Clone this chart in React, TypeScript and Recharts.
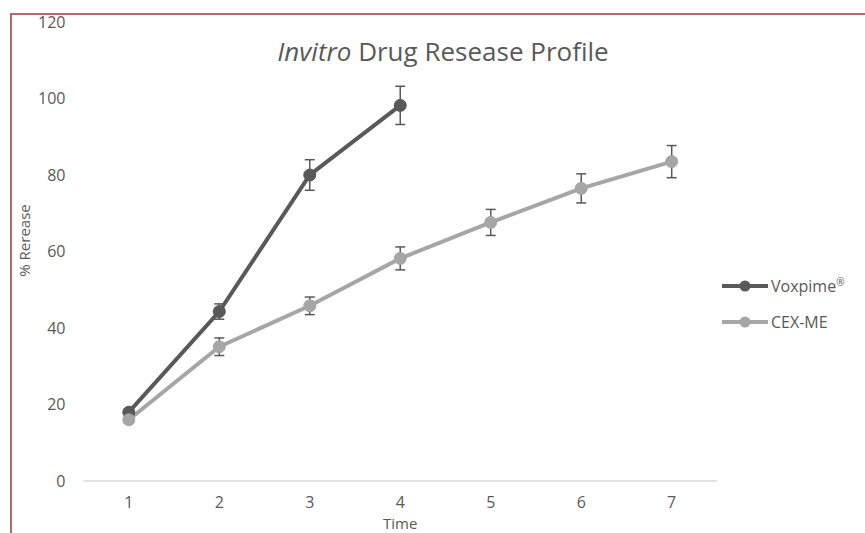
import React from "react";
import { LineChart, Line, XAxis, YAxis, ErrorBar, Label } from "recharts";

const times = [1, 2, 3, 4, 5, 6, 7];
const voxpime = [18, 44.3, 80, 98.2, null, null, null];
const voxpimeErr = [0.8, 2, 4, 5, 0, 0, 0];
const cexMe = [16, 35.1, 45.8, 58.2, 67.6, 76.5, 83.5];
const cexMeErr = [0.8, 2.3, 2.3, 3, 3.4, 3.8, 4.2];
const yTicks = [0, 20, 40, 60, 80, 100, 120];

const DARK = "#595959";
const LIGHT = "#a6a6a6";
const TEXT = "#595959";
const FONT = "'Open Sans', sans-serif";

const data = times.map((t, i) => ({
  time: t,
  voxpime: voxpime[i],
  voxpimeErr: voxpimeErr[i],
  cexMe: cexMe[i],
  cexMeErr: cexMeErr[i],
}));

const legendItems = [
  { label: "Voxpime", sup: "®", color: DARK },
  { label: "CEX-ME", sup: "", color: LIGHT },
];

function LegendBox() {
  return (
    <div
      style={{
        position: "absolute",
        left: 722,
        top: 268,
        fontFamily: FONT,
        fontSize: 16,
        color: TEXT,
      }}
    >
      {legendItems.map((it) => (
        <div key={it.label} style={{ display: "flex", alignItems: "center", height: 36 }}>
          <svg width={48} height={14} style={{ marginRight: 1 }}>
            <line x1={0} y1={7} x2={46} y2={7} stroke={it.color} strokeWidth={4} />
            <circle cx={23} cy={7} r={5.5} fill={it.color} />
          </svg>
          <span>
            {it.label}
            {it.sup && <sup style={{ fontSize: 10 }}>{it.sup}</sup>}
          </span>
        </div>
      ))}
    </div>
  );
}

export default function App() {
  return (
    <div style={{ position: "absolute", left: 0, top: 0, width: 865, height: 533, background: "#fff", overflow: "hidden" }}>
      <div
        style={{
          position: "absolute",
          left: 10,
          top: 13,
          width: 900,
          height: 600,
          borderLeft: "2px solid #b46a6a",
          borderTop: "2px solid #b46a6a",
        }}
      />
      <div
        style={{
          position: "absolute",
          left: 0,
          top: 33,
          width: 886,
          textAlign: "center",
          fontFamily: FONT,
          fontSize: 26,
          color: TEXT,
        }}
      >
        <i>Invitro</i> Drug Resease Profile
      </div>
      <LineChart
        width={865}
        height={533}
        data={data}
        margin={{ top: 22, right: 148, bottom: 22, left: 0 }}
        style={{ position: "absolute", left: 0, top: 0 }}
      >
        <XAxis
          dataKey="time"
          padding={{ left: 45.3, right: 45.3 }}
          axisLine={{ stroke: "#d9d9d9", strokeWidth: 1.5 }}
          tickLine={false}
          tickMargin={10}
          tick={{ fill: TEXT, fontSize: 16, fontFamily: FONT }}
        >
          <Label
            value="Time"
            position="bottom"
            offset={7}
            style={{ fill: TEXT, fontSize: 15, fontFamily: FONT }}
          />
        </XAxis>
        <YAxis
          width={83.5}
          domain={[0, 120]}
          ticks={yTicks}
          axisLine={false}
          tickLine={false}
          tickMargin={12}
          tick={{ fill: TEXT, fontSize: 16, fontFamily: FONT }}
        >
          <Label
            content={({ viewBox }: any) => (
              <text
                x={30}
                y={viewBox.y + viewBox.height / 2 - 11}
                transform={`rotate(-90 30 ${viewBox.y + viewBox.height / 2 - 11})`}
                textAnchor="middle"
                fill={TEXT}
                fontSize={15}
                fontFamily={FONT}
              >
                % Rerease
              </text>
            )}
          />
        </YAxis>
        <Line
          dataKey="voxpime"
          stroke={DARK}
          strokeWidth={4}
          dot={{ r: 6, fill: DARK, stroke: DARK, strokeWidth: 1 }}
          isAnimationActive={false}
          connectNulls={false}
        >
          <ErrorBar dataKey="voxpimeErr" width={5} stroke={DARK} strokeWidth={1.5} />
        </Line>
        <Line
          dataKey="cexMe"
          stroke={LIGHT}
          strokeWidth={4}
          dot={{ r: 6, fill: LIGHT, stroke: LIGHT, strokeWidth: 1 }}
          isAnimationActive={false}
        >
          <ErrorBar dataKey="cexMeErr" width={5} stroke={DARK} strokeWidth={1.5} />
        </Line>
      </LineChart>
      <LegendBox />
    </div>
  );
}
